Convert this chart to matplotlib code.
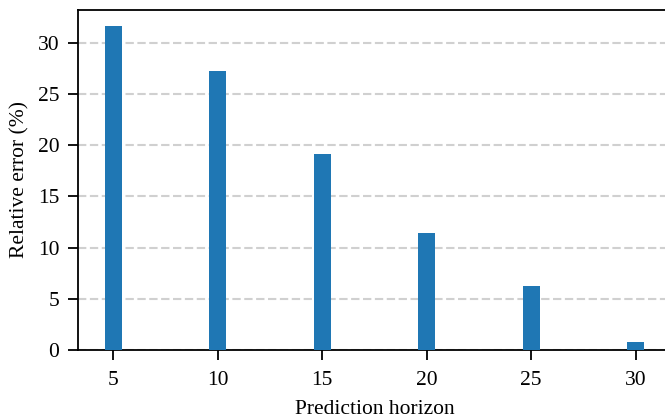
import matplotlib
matplotlib.use("Agg")
import matplotlib.pyplot as plt

horizons = [5, 10, 15, 20, 25, 30]
rel_error = [31.6, 27.2, 19.1, 11.4, 6.2, 0.8]
x_label = "Prediction horizon"
y_label = "Relative error (%)"

plt.rcParams['font.family'] = ['Liberation Serif', 'DejaVu Serif']
plt.rcParams['font.size'] = 15.5

fig = plt.figure(figsize=(6.65, 4.2), dpi=100)
ax = fig.add_axes([78/665, 70/420, 593/665, 340/420])
ax.bar(horizons, rel_error, width=0.8, color='#1f77b4', zorder=3)
ax.set_xticks(horizons)
ax.set_yticks([0, 5, 10, 15, 20, 25, 30])
ax.set_xlabel(x_label, fontsize=15.5, labelpad=7)
ax.set_ylabel(y_label, fontsize=15.5, labelpad=6)
ax.grid(axis='y', linestyle=(0, (4, 1.7)), color='#d0d0d0', linewidth=1.5, zorder=0)
ax.spines['right'].set_visible(False)
for s in ['left', 'bottom', 'top']:
    ax.spines[s].set_linewidth(1.3)
ax.tick_params(axis='x', width=1.3, length=7, labelsize=15.5, pad=8)
ax.tick_params(axis='y', width=1.3, length=7, labelsize=15.5, pad=6.5)
fig.savefig('out.png', dpi=100)
